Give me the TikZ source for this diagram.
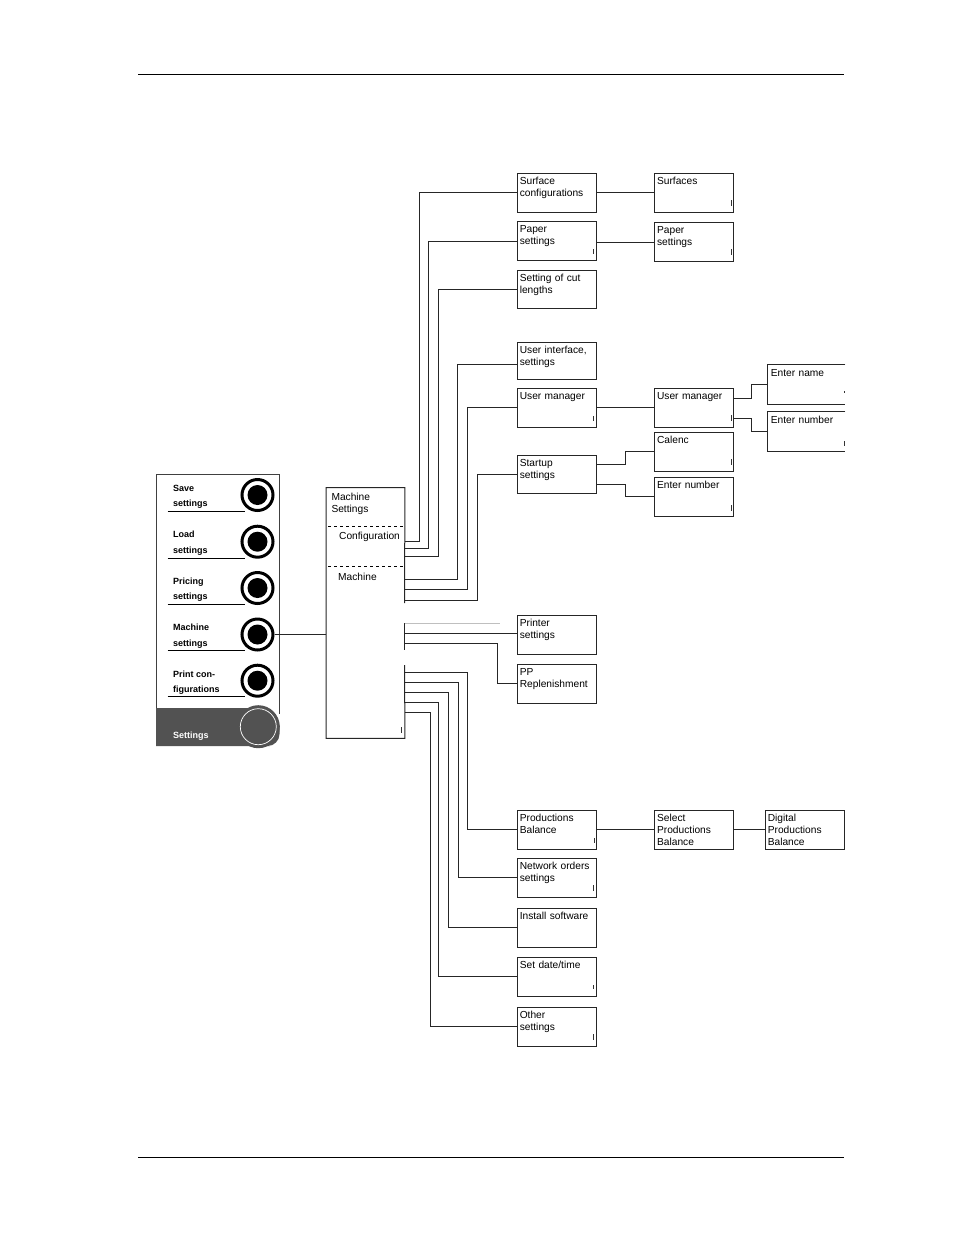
\documentclass[tikz,border=0pt]{standalone}
\usepackage{fontspec}
\setmainfont{Liberation Sans}
\usetikzlibrary{positioning, calc}

\begin{document}
\begin{tikzpicture}[
		x=1pt, y=-1pt,
		menu/.style={
			draw=black!85, line width=.95pt, align=left, inner xsep=2.8pt, inner ysep=2pt, text width=73.4pt,
			text height=9pt, text depth=26pt, font=\fontsize{10.2}{12.2}\selectfont
		},
		openmenu/.style={
			menu, draw=none, text width=71.4pt
		},
		ghost/.style={
			align=left, inner sep=0pt, font=\fontsize{10.2}{12.2}\selectfont
		},
		paneltext/.style={
			align=left, anchor=west, inner sep=0pt, font=\fontsize{9}{15.4}\selectfont\bfseries
		},
		ring/.style={
			circle, draw, line width=3pt, fill=white, minimum size=31pt, inner sep=0pt
		},
		dot/.style={
			circle, fill=black, minimum size=20pt, inner sep=0pt
		},
		wire/.style={
			line width=.9pt, draw=black!85
		},
		nick/.style={
			line width=.8pt, draw=black!80
		},
		]
		\useasboundingbox (0,0) rectangle (954,1235);
		
		% Page rules
		\coordinate (topa) at (138,74.5);
		\coordinate (topb) at (844,74.5);
		\coordinate (bota) at (138,1157.5);
		\coordinate (botb) at (844,1157.5);
		\draw [line width=.9pt] (topa) -- (topb);
		\draw [line width=.9pt] (bota) -- (botb);
		
		% Button panel
		\draw [line width=1pt, draw=black!75] (156,708) -- (156,474) -- (279.5,474) -- (279.5,714);
		\fill [black!68] (156,746) -- (156,708) -- (258,708) -- (258,725) -- (279.5,725) {[rounded corners=12pt] -- (279.5,746) -- (258,746)} -- cycle;
		\draw [line width=1pt] (167.5,511.7) -- (245,511.7);
		\draw [line width=1pt] (167.5,558) -- (245,558);
		\draw [line width=1pt] (167.5,604) -- (245,604);
		\draw [line width=1pt] (167.5,650.3) -- (245,650.3);
		\draw [line width=1pt] (167.5,696.7) -- (245,696.7);
		
		\node [ring] (btn1) at (257.5,495) {};
		\node [dot] (dot1) at (btn1) {};
		\node [ring] (btn2) at (257.5,541.7) {};
		\node [dot] (dot2) at (btn2) {};
		\node [ring] (btn3) at (257.5,588) {};
		\node [dot] (dot3) at (btn3) {};
		\node [ring] (btn4) at (257.5,634.5) {};
		\node [dot] (dot4) at (btn4) {};
		\node [ring] (btn5) at (257.5,680.7) {};
		\node [dot] (dot5) at (btn5) {};
		\node [circle, fill=black!68, minimum size=43pt, inner sep=0pt] (btn6) at (258.3,726.7) {};
		\node [circle, draw=white, line width=.7pt, minimum size=36pt, inner sep=0pt] (btn6ring) at (btn6) {};
		
		\node [paneltext] (txt1) at (173,497) {Save\\settings};
		\node [paneltext] (txt2) at (173,543.3) {Load\\settings};
		\node [paneltext] (txt3) at (173,589.6) {Pricing\\settings};
		\node [paneltext] (txt4) at (173,636) {Machine\\settings};
		\node [paneltext] (txt5) at (173,682.5) {Print con-\\figurations};
		\node [paneltext, text=white] (txt6) at (173,736) {Settings};
		
		% Machine settings box
		\node [menu, draw=none, inner xsep=5pt, inner ysep=3.5pt, text width=68pt, text depth=234pt] (mach) at (365.5,613) {Machine\\Settings};
		\node [ghost, anchor=west] (conf) at (339,537) {Configuration};
		\node [ghost, anchor=west] (mchn) at (338,577) {Machine};
		\coordinate (gapa) at (404.5,603);
		\coordinate (gapb) at (404.5,623);
		\coordinate (gapc) at (404.5,650);
		\coordinate (gapd) at (404.5,665);
		\coordinate (dasha) at (328,526);
		\coordinate (dashb) at (404.5,526);
		\coordinate (dashc) at (328,566);
		\coordinate (dashd) at (404.5,566);
		\draw [line width=1pt, draw=black!85] (gapa) -- (mach.north east) -- (mach.north west) -- (mach.south west) -- (mach.south east) -- (gapd);
		\draw [line width=1pt, draw=black!85] (gapb) -- (gapc);
		\draw [dashed, line width=.9pt] (dasha) -- (dashb);
		\draw [dashed, line width=.9pt] (dashc) -- (dashd);
		\draw [wire] (btn4) -- (btn4 -| mach.west);
		
		% First column
		\node [menu] (surf) at (556.5,192.5) {Surface\\configurations};
		\node [menu] (pap) at (556.5,241) {Paper\\settings};
		\node [menu, text depth=25pt] (cut) at (556.5,289) {Setting of cut\\lengths};
		\node [menu, text depth=24pt] (ui) at (556.5,360.5) {User interface,\\settings};
		\node [menu] (user) at (556.5,407.5) {User manager};
		\node [menu, text depth=25pt] (start) at (556.5,474) {Startup\\settings};
		\node [menu] (print) at (556.5,634.5) {Printer\\settings};
		\node [menu] (pp) at (556.5,683.5) {PP\\Replenishment};
		\node [menu] (prod) at (556.5,829.5) {Productions\\Balance};
		\node [menu] (net) at (556.5,877.5) {Network orders\\settings};
		\node [menu] (inst) at (556.5,927.5) {Install software};
		\node [menu] (date) at (556.5,976.5) {Set date/time};
		\node [menu] (other) at (556.5,1026.5) {Other\\settings};
		
		% Second column
		\node [menu] (surfb) at (693.8,192.5) {Surfaces};
		\node [menu] (papb) at (693.8,242) {Paper\\settings};
		\node [menu] (userb) at (693.8,407.5) {User manager};
		\node [menu] (cal) at (693.8,451.5) {Calenc};
		\node [menu] (numb) at (693.8,496.5) {Enter number};
		\node [menu] (sel) at (693.8,829.5) {Select\\Productions\\Balance};
		
		% Third column
		\node [openmenu] (name) at (806.5,384.5) {Enter name};
		\node [openmenu] (numc) at (806.5,431.5) {Enter number};
		\draw [line width=1pt, draw=black!85] (name.north east) -- (name.north west) -- (name.south west) -- (name.south east);
		\draw [line width=1pt, draw=black!85] (numc.north east) -- (numc.north west) -- (numc.south west) -- (numc.south east);
		\node [menu] (digi) at (804.5,829.5) {Digital\\Productions\\Balance};
		
		% Upper branches
		\coordinate (out1) at (404.5,541.7);
		\coordinate (out2) at (404.5,548);
		\coordinate (out3) at (404.5,556);
		\coordinate (out4) at (404.5,579);
		\coordinate (out5) at (404.5,589);
		\coordinate (out6) at (404.5,600);
		\draw [wire] (out1) -- (419,541.7) |- (surf);
		\draw [wire] (out2) -- (428.5,548) |- (pap);
		\draw [wire] (out3) -- (438.7,556) |- (cut);
		\draw [wire] (out4) -- (457.7,579) |- ([yshift=-3.5pt]ui.west);
		\draw [wire] (out5) -- (467.7,589) |- (user);
		\draw [wire] (out6) -- (477,600) |- (start);
		
		% Middle branches
		\coordinate (out7) at (404.5,623);
		\coordinate (ghostend) at (500,623);
		\coordinate (out8) at (404.5,633.5);
		\coordinate (out9) at (404.5,643);
		\draw [line width=.6pt, black!25] (out7) -- (ghostend);
		\draw [wire] (out8) -- (print.west |- out8);
		\draw [wire] (out9) -- (497.7,643) |- (pp);
		
		% Lower branches
		\coordinate (out10) at (404.5,672.7);
		\coordinate (out11) at (404.5,682.7);
		\coordinate (out12) at (404.5,692.5);
		\coordinate (out13) at (404.5,702.5);
		\coordinate (out14) at (404.5,712.5);
		\draw [wire] (out10) -- (467.7,672.7) |- (prod);
		\draw [wire] (out11) -- (458,682.7) |- (net);
		\draw [wire] (out12) -- (448,692.5) |- (inst);
		\draw [wire] (out13) -- (438.5,702.5) |- (date);
		\draw [wire] (out14) -- (430.5,712.5) |- (other);
		
		% Next levels
		\draw [wire] (surf) -- (surfb);
		\draw [wire] (pap.east |- papb) -- (papb);
		\draw [wire] (user) -- (userb);
		\draw [wire] (prod) -- (sel);
		\draw [wire] (sel) -- (digi);
		\coordinate (uma) at (733,398);
		\coordinate (umb) at (733,418);
		\coordinate (sta) at (596,464);
		\coordinate (stb) at (596,484.7);
		\draw [wire] (uma) -- (751,398) |- (name);
		\draw [wire] (umb) -- (751.5,418) |- (numc);
		\draw [wire] (sta) -- (625,464) |- (cal);
		\draw [wire] (stb) -- (625,484.7) |- (numb);
		
		% Stray marks inside the boxes
		\draw [nick] (731,200) -- (731,206);
		\draw [nick] (731,249) -- (731,255);
		\draw [nick] (731,415) -- (731,421);
		\draw [nick] (731,459) -- (731,465);
		\draw [nick] (731,505) -- (731,511);
		\draw [nick] (844.5,441) -- (844.5,446);
		\draw [nick] (844.5,391) -- (844.5,393);
		\draw [nick] (593.5,249) -- (593.5,254);
		\draw [nick] (593.5,416) -- (593.5,421);
		\draw [nick] (593.5,885) -- (593.5,891);
		\draw [nick] (594.5,838) -- (594.5,843);
		\draw [nick] (593.5,985) -- (593.5,989);
		\draw [nick] (593.5,1034) -- (593.5,1040);
		\draw [nick] (401,727) -- (401,733);
		
	\end{tikzpicture}
\end{document}
